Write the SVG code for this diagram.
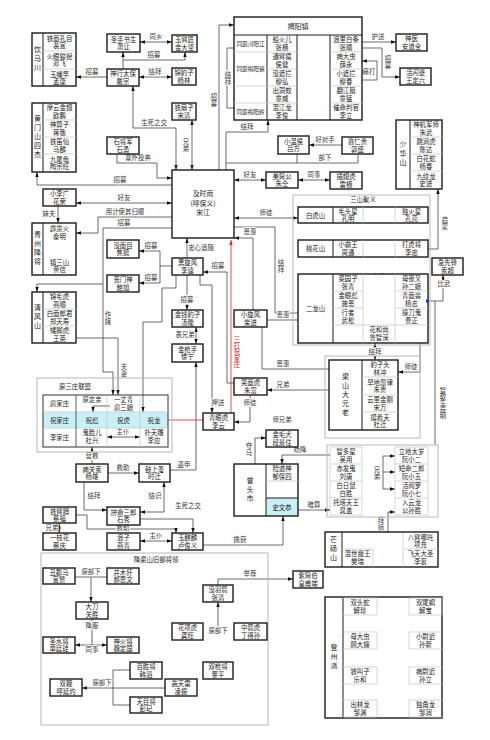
<svg xmlns="http://www.w3.org/2000/svg" width="490" height="740" viewBox="0 0 490 740">
<defs>
<marker id="ar" viewBox="0 0 6 4" refX="6" refY="2" markerWidth="5" markerHeight="4" markerUnits="userSpaceOnUse" orient="auto-start-reverse"><path d="M0,0L6,2L0,4z" fill="#111"/></marker>
<marker id="arr" viewBox="0 0 6 4" refX="6" refY="2" markerWidth="5" markerHeight="4" markerUnits="userSpaceOnUse" orient="auto-start-reverse"><path d="M0,0L6,2L0,4z" fill="#e02020"/></marker>
<style>
text{font-family:"Noto Sans CJK SC","Noto Sans CJK JP",sans-serif;font-size:6.4px;fill:#222;text-anchor:middle}
.bx{fill:#fff;stroke:#1a1a1a;stroke-width:1.4}
.gb{fill:none;stroke:#b8b8b8;stroke-width:1}
.cl{fill:none;stroke:#c4c4c4;stroke-width:0.7}
.dl{fill:none;stroke:#1a1a1a;stroke-width:1}
.v{writing-mode:vertical-rl}
.gt{font-size:7px;letter-spacing:2px}
.lb{fill:#333;paint-order:stroke;stroke:#fff;stroke-width:2px;stroke-linejoin:round}
.c{fill:none;stroke:#444;stroke-width:0.8}
.a{marker-end:url(#ar)}
.aa{marker-start:url(#ar);marker-end:url(#ar)}
.r{stroke:#e02020;marker-end:url(#arr)}
.rt{fill:#e02020}
.cy{fill:#c9f0f6}
.s7{font-size:7px}
.s5{font-size:5.6px}
</style>
</defs>
<rect width="490" height="740" fill="#fff"/>

<g id="connectors">
<path class="c aa" d="M140,42H172"/>
<path class="c a" d="M123,69V52"/>
<path class="c a" d="M123,60H185V52"/>
<path class="c a" d="M107,77H76"/>
<path class="c aa" d="M139,77H172"/>
<path class="c aa" d="M133,86V128H176V170"/>
<path class="c aa" d="M192,120V170"/>
<path class="c a" d="M117,154V163H157V178H172"/>
<path class="c a" d="M172,185H37V172"/>
<path class="c aa" d="M76,203H172"/>
<path class="c a" d="M58,206V223"/>
<path class="c aa" d="M59,244V256"/>
<path class="c a" d="M172,217H98V233H76"/>
<path class="c a" d="M172,228H103V284H37V292"/>
<path class="c a" d="M103,284V372H113V395"/>
<path class="c a" d="M76,338H118V395"/>
<path class="c a" d="M172,266H160V251H139"/>
<path class="c a" d="M160,266V283H139"/>
<path class="c a" d="M176,275V288H162V322H143V412"/>
<path class="c a" d="M187,258V238"/>
<path class="c a" d="M187,275V310"/>
<path class="c aa" d="M196,327V344"/>
<path class="c a" d="M234,383H227V272H203"/>
<path class="c a" d="M200,275V285H212V413"/>
<path class="c r" d="M168,420H231V240"/>
<path class="c a" d="M219,170V25H234"/>
<path class="c a" d="M226,170V132H268V120"/>
<path class="c" d="M358,154V163H226"/>
<path class="c" d="M297,154V163"/>
<path class="c a" d="M342,145H309"/>
<path class="c a" d="M227,48H267"/>
<path class="c a" d="M227,48V108H267"/>
<path class="c aa" d="M297,44H330"/>
<path class="c a" d="M297,61H330"/>
<path class="c aa" d="M297,78H330"/>
<path class="c aa" d="M297,95H330"/>
<path class="c a" d="M362,42H396"/>
<path class="c a" d="M362,48H382V77H400"/>
<path class="c a" d="M362,80H377V61H362"/>
<path class="c aa" d="M234,180H266"/>
<path class="c aa" d="M298,180H330"/>
<path class="c aa" d="M234,218H298"/>
<path class="c a" d="M234,227H275V313H333"/>
<path class="c a" d="M253,310V238H234"/>
<path class="c a" d="M267,320H333"/>
<path class="c a" d="M262,327V369H362"/>
<path class="c aa" d="M363,216H395"/>
<path class="c aa" d="M363,282H395"/>
<path class="c aa" d="M363,288H375V325"/>
<path class="c aa" d="M420,327V372H398"/>
<path class="c aa" d="M375,343V360"/>
<path class="c a" d="M428,301H443V275"/>
<path class="c" d="M435,301V445"/>
<path class="c a" d="M428,249H438V189"/>
<path class="c aa" d="M267,390H362"/>
<path class="c a" d="M250,395V422H234"/>
<path class="c a" d="M255,464V438H266"/>
<path class="c a" d="M330,455H282V464"/>
<path class="c a" d="M298,510H330"/>
<path class="c a" d="M203,545H283V516"/>
<path class="c a" d="M383,456H395"/>
<path class="c a" d="M383,456V489H395"/>
<path class="c a" d="M383,472H395"/>
<path class="c a" d="M388,512H395"/>
<path class="c a" d="M388,512V532H360V549"/>
<path class="c a" d="M397,562V540H405"/>
<path class="c aa" d="M373,562H405"/>
<path class="c a" d="M110,406H93V412"/>
<path class="c aa" d="M107,437H140"/>
<path class="c a" d="M92,464V447"/>
<path class="c a" d="M108,473H139"/>
<path class="c a" d="M170,470H196V362"/>
<path class="c a" d="M84,482V510H107"/>
<path class="c aa" d="M140,512H164V482"/>
<path class="c a" d="M140,519H193V533"/>
<path class="c aa" d="M59,523V533"/>
<path class="c a" d="M76,515H87V529H176V533"/>
<path class="c aa" d="M140,541H172"/>
<path class="c" d="M75,577H107"/>
<path class="c a" d="M91,577V602"/>
<path class="c" d="M92,619V645"/>
<path class="c aa" d="M75,645H107"/>
<path class="c a" d="M165,688H82"/>
<path class="c" d="M130,670H113V705H130"/>
<path class="c a" d="M218,627V602"/>
<path class="c a" d="M218,585V579H293"/>
<path class="c aa" d="M377,608H409"/>
<path class="c aa" d="M358,615V632"/>
<path class="c a" d="M358,624H426V615"/>
<path class="c aa" d="M377,642H409"/>
<path class="c aa" d="M426,649V667"/>
<path class="c a" d="M377,676H409"/>
<path class="c aa" d="M377,710H409"/>
</g>

<g id="labels">
<text class="lb" x="156" y="39">同乡</text>
<text class="lb" x="154" y="57">招募</text>
<text class="lb" x="92" y="74">招募</text>
<text class="lb" x="155" y="74">结拜</text>
<text class="lb" x="154" y="125">生死之交</text>
<text class="lb v" x="186" y="145">兄弟</text>
<text class="lb" x="138" y="160">寨外投奔</text>
<text class="lb" x="120" y="182">招募</text>
<text class="lb" x="124" y="200">好友</text>
<text class="lb" x="49" y="216">妹夫</text>
<text class="lb" x="59" y="252">师徒</text>
<text class="lb" x="125" y="214">用计使其归顺</text>
<text class="lb" x="124" y="225">招募</text>
<text class="lb" x="151" y="248">招募</text>
<text class="lb" x="151" y="280">招募</text>
<text class="lb v" x="108" y="318">作媒</text>
<text class="lb v" x="124" y="370">夫妻</text>
<text class="lb" x="201" y="250">忠心追随</text>
<text class="lb" x="187" y="302">招募</text>
<text class="lb" x="185" y="337">表兄弟</text>
<text class="lb" x="218" y="268">招募</text>
<text class="rt v" x="237" y="352">三打祝家庄</text>
<text class="lb v" x="214" y="100">招募</text>
<text class="lb" x="247" y="129">结拜</text>
<text class="lb" x="325" y="160">部下</text>
<text class="lb" x="325" y="142">好对手</text>
<text class="lb v" x="228" y="78">结拜</text>
<text class="lb" x="314" y="41">兄弟</text>
<text class="lb" x="314" y="58">徒弟</text>
<text class="lb" x="314" y="75">兄弟</text>
<text class="lb" x="314" y="92">兄弟</text>
<text class="lb" x="305" y="112">追随</text>
<text class="lb" x="378" y="39">护送</text>
<text class="lb v" x="388" y="62">招募</text>
<text class="lb" x="369" y="74">痛打</text>
<text class="lb" x="250" y="177">好友</text>
<text class="lb" x="314" y="177">同事</text>
<text class="lb" x="266" y="215">师徒</text>
<text class="lb v" x="281" y="266">结拜</text>
<text class="lb" x="250" y="234">恩惠</text>
<text class="lb" x="283" y="317">恩惠</text>
<text class="lb" x="283" y="366">恩惠</text>
<text class="lb" x="379" y="213">兄弟</text>
<text class="lb" x="379" y="279">夫妻</text>
<text class="lb v" x="381" y="307">结拜</text>
<text class="lb" x="411" y="369">师徒</text>
<text class="lb" x="375" y="354">结拜</text>
<text class="lb" x="444" y="286">比武</text>
<text class="lb v" x="443" y="403">智取生辰纲</text>
<text class="lb v" x="445" y="223">启蒙</text>
<text class="lb" x="283" y="387">兄弟</text>
<text class="lb" x="250" y="405">师徒</text>
<text class="lb" x="218" y="405">押送</text>
<text class="lb" x="282" y="422">师兄弟</text>
<text class="lb v" x="249" y="449">夺马</text>
<text class="lb" x="300" y="452">劝降</text>
<text class="lb" x="314" y="507">暗算</text>
<text class="lb" x="240" y="542">擒获</text>
<text class="lb v" x="377" y="473">兄弟</text>
<text class="lb v" x="381" y="524">拜师</text>
<text class="lb v" x="390" y="551">结拜</text>
<text class="lb" x="92" y="402">原定亲</text>
<text class="lb" x="123" y="434">主仆</text>
<text class="lb" x="92" y="458">营救</text>
<text class="lb" x="123" y="470">救助</text>
<text class="lb" x="184" y="467">盗甲</text>
<text class="lb" x="94" y="498">结拜</text>
<text class="lb" x="155" y="498">结识</text>
<text class="lb" x="188" y="508">生死之交</text>
<text class="lb" x="52" y="530">兄弟</text>
<text class="lb" x="123" y="529.5">救助</text>
<text class="lb" x="156" y="538">主仆</text>
<text class="lb" x="91" y="574">原部下</text>
<text class="lb" x="92" y="628">降服</text>
<text class="lb" x="92" y="652">同事</text>
<text class="lb" x="102" y="685">原部下</text>
<text class="lb" x="218" y="633">原部下</text>
<text class="lb" x="250" y="576">举荐</text>
<text class="lb" x="393" y="605">兄弟</text>
<text class="lb" x="392" y="622">表姐弟</text>
<text class="lb" x="393" y="639">夫妻</text>
<text class="lb v" x="431" y="658">兄弟</text>
<text class="lb" x="393" y="673">妻舅</text>
<text class="lb" x="393" y="707">叔侄</text>
</g>

<g id="yinmachuan">
<rect class="bx" x="32" y="33" width="44" height="53"/>
<path class="dl" d="M43,33V86"/><path class="cl" d="M43,51H76M43,69H76"/>
<text class="v gt" x="37.5" y="59.5">饮马川</text>
<text x="59.5" y="40.5">铁面孔目<tspan x="59.5" dy="7.5">裴宣</tspan></text>
<text x="59.5" y="58.5">火眼狻猊<tspan x="59.5" dy="7.5">邓飞</tspan></text>
<text x="59.5" y="76.5">玉幡竿<tspan x="59.5" dy="7.5">孟康</tspan></text>
</g>
<g id="xiaorang"><rect class="bx" x="107" y="34" width="33" height="18"/><text x="123.5" y="41.5">圣手书生<tspan x="123.5" dy="7.5">萧让</tspan></text></g>
<g id="jindajian"><rect class="bx" x="172" y="35" width="25" height="17"/><text x="184.5" y="42">玉臂匠<tspan x="184.5" dy="7.5">金大坚</tspan></text></g>
<g id="daizong"><rect class="bx" x="107" y="69" width="32" height="17"/><text x="123" y="76">神行太保<tspan x="123" dy="7.5">戴宗</tspan></text></g>
<g id="yanglin"><rect class="bx" x="172" y="68" width="24" height="17"/><text x="184" y="75">锦豹子<tspan x="184" dy="7.5">杨林</tspan></text></g>
<g id="huangmenshan">
<rect class="bx" x="32" y="103" width="44" height="69"/>
<path class="dl" d="M43,103V172"/><path class="cl" d="M43,120H76M43,137H76M43,154H76"/>
<text class="v gt" x="37.5" y="137.5">黄门山四杰</text>
<text x="59.5" y="110">摩云金翅<tspan x="59.5" dy="7.5">欧鹏</tspan></text>
<text x="59.5" y="127">神算子<tspan x="59.5" dy="7.5">蒋敬</tspan></text>
<text x="59.5" y="144">铁笛仙<tspan x="59.5" dy="7.5">马麟</tspan></text>
<text x="59.5" y="161.5">九尾龟<tspan x="59.5" dy="7.5">陶宗旺</tspan></text>
</g>
<g id="songqing"><rect class="bx" x="172" y="103" width="24" height="17"/><text x="184" y="110">铁扇子<tspan x="184" dy="7.5">宋清</tspan></text></g>
<g id="shiyong"><rect class="bx" x="107" y="137" width="32" height="17"/><text x="123" y="144">石将军<tspan x="123" dy="7.5">石勇</tspan></text></g>
<g id="jieyangzhen">
<rect class="bx" x="234" y="17" width="128" height="103"/>
<path class="dl" d="M234,35H362M267,35V120M297,35V120M330,35V120"/>
<path class="cl" d="M234,52H267M234,86H267M234,103H267M267,52H297M267,69H297M267,86H297M267,103H297M330,52H362M330,69H362M330,86H362M330,103H362"/>
<text x="298" y="29" class="s7">揭阳镇</text>
<text x="250.5" y="46" class="s5">同霸浔阳江</text>
<text x="250.5" y="71" class="s5">同霸揭阳镇</text>
<text x="250.5" y="114" class="s5">同霸揭阳岭</text>
<text x="282" y="42">船火儿<tspan x="282" dy="7.5">张横</tspan></text>
<text x="282" y="59">通臂猿<tspan x="282" dy="7.5">侯健</tspan></text>
<text x="282" y="76">没遮拦<tspan x="282" dy="7.5">穆弘</tspan></text>
<text x="282" y="93">出洞蛟<tspan x="282" dy="7.5">童威</tspan></text>
<text x="282" y="110">混江龙<tspan x="282" dy="7.5">李俊</tspan></text>
<text x="346" y="42">浪里白条<tspan x="346" dy="7.5">张顺</tspan></text>
<text x="346" y="59">病大虫<tspan x="346" dy="7.5">薛永</tspan></text>
<text x="346" y="76">小遮拦<tspan x="346" dy="7.5">穆春</tspan></text>
<text x="346" y="93">翻江蜃<tspan x="346" dy="7.5">童猛</tspan></text>
<text x="346" y="110">催命判官<tspan x="346" dy="7.5">李立</tspan></text>
</g>
<g id="andaoquan"><rect class="bx" x="396" y="34" width="31" height="17"/><text x="411.5" y="41">神医<tspan x="411.5" dy="7.5">安道全</tspan></text></g>
<g id="wangdingliu"><rect class="bx" x="400" y="68" width="31" height="17"/><text x="415.5" y="75">活闪婆<tspan x="415.5" dy="7.5">王定六</tspan></text></g>
<g id="lvfang"><rect class="bx" x="278" y="136" width="31" height="18"/><text x="293.5" y="143.5">小温侯<tspan x="293.5" dy="7.5">吕方</tspan></text></g>
<g id="guosheng"><rect class="bx" x="342" y="137" width="31" height="17"/><text x="357.5" y="144">赛仁贵<tspan x="357.5" dy="7.5">郭盛</tspan></text></g>
<g id="shaohuashan">
<rect class="bx" x="396" y="120" width="46" height="69"/>
<path class="dl" d="M410,120V189"/><path class="cl" d="M410,137H442M410,154H442M410,171H442"/>
<text class="v gt" x="403" y="154.5">少华山</text>
<text x="426" y="127">神机军师<tspan x="426" dy="7.5">朱武</tspan></text>
<text x="426" y="144">跳涧虎<tspan x="426" dy="7.5">陈达</tspan></text>
<text x="426" y="161">白花蛇<tspan x="426" dy="7.5">杨春</tspan></text>
<text x="426" y="178.5">九纹龙<tspan x="426" dy="7.5">史进</tspan></text>
</g>
<g id="songjiang"><rect class="bx" x="172" y="170" width="62" height="68"/>
<text x="203" y="196" style="font-size:6.8px">及时雨<tspan x="203" dy="9.5">(呼保义)</tspan><tspan x="203" dy="9.5">宋江</tspan></text></g>
<g id="zhutong"><rect class="bx" x="266" y="172" width="32" height="16"/><text x="282" y="178.5">美髯公<tspan x="282" dy="7.5">朱仝</tspan></text></g>
<g id="leiheng"><rect class="bx" x="330" y="172" width="32" height="17"/><text x="346" y="179">插翅虎<tspan x="346" dy="7.5">雷横</tspan></text></g>
<g id="huarong"><rect class="bx" x="43" y="189" width="33" height="17"/><text x="59.5" y="196">小李广<tspan x="59.5" dy="7.5">花荣</tspan></text></g>
<g id="qingzhou">
<rect class="bx" x="32" y="223" width="44" height="52"/>
<path class="dl" d="M43,223V275"/>
<text class="v gt" x="37.5" y="249">青州降将</text>
<text x="59.5" y="231">霹雳火<tspan x="59.5" dy="7.5">秦明</tspan></text>
<text x="59.5" y="264.5">镇三山<tspan x="59.5" dy="7.5">黄信</tspan></text>
</g>
<g id="jiaoting"><rect class="bx" x="107" y="240" width="32" height="18"/><text x="123" y="247.5">没面目<tspan x="123" dy="7.5">焦挺</tspan></text></g>
<g id="baoxu"><rect class="bx" x="107" y="275" width="32" height="17"/><text x="123" y="282">丧门神<tspan x="123" dy="7.5">鲍旭</tspan></text></g>
<g id="likui"><rect class="bx" x="172" y="258" width="31" height="17"/><text x="187.5" y="265">黑旋风<tspan x="187.5" dy="7.5">李逵</tspan></text></g>
<g id="qingfengshan">
<rect class="bx" x="32" y="292" width="44" height="51"/>
<path class="dl" d="M43,292V343"/><path class="cl" d="M43,309H76M43,326H76"/>
<text class="v gt" x="37.5" y="317.5">清风山</text>
<text x="59.5" y="299">锦毛虎<tspan x="59.5" dy="7.5">燕顺</tspan></text>
<text x="59.5" y="316">白面郎君<tspan x="59.5" dy="7.5">郑天寿</tspan></text>
<text x="59.5" y="333">矮脚虎<tspan x="59.5" dy="7.5">王英</tspan></text>
</g>
<g id="tanglong"><rect class="bx" x="172" y="310" width="31" height="17"/><text x="187.5" y="317">金钱豹子<tspan x="187.5" dy="7.5">汤隆</tspan></text></g>
<g id="xuning"><rect class="bx" x="172" y="344" width="31" height="18"/><text x="187.5" y="351.5">金枪手<tspan x="187.5" dy="7.5">徐宁</tspan></text></g>
<g id="chaijin"><rect class="bx" x="234" y="310" width="33" height="17"/><text x="250.5" y="317">小旋风<tspan x="250.5" dy="7.5">柴进</tspan></text></g>
<g id="sanshan">
<rect class="gb" x="293" y="195" width="137" height="150"/>
<text x="363" y="202">三山聚义</text>
<rect class="bx" x="298" y="207" width="130" height="16"/>
<path class="dl" d="M333,207V223"/><path class="cl" d="M363,207V223M395,207V223"/>
<text x="315.5" y="217.5">白虎山</text>
<text x="348" y="213.5">毛头星<tspan x="348" dy="7.5">孔明</tspan></text>
<text x="411.5" y="213.5">独火星<tspan x="411.5" dy="7.5">孔亮</tspan></text>
<rect class="bx" x="298" y="240" width="130" height="17"/>
<path class="dl" d="M333,240V257"/><path class="cl" d="M363,240V257M395,240V257"/>
<text x="315.5" y="251">桃花山</text>
<text x="348" y="247">小霸王<tspan x="348" dy="7.5">周通</tspan></text>
<text x="411.5" y="247">打虎将<tspan x="411.5" dy="7.5">李忠</tspan></text>
<rect class="bx" x="298" y="274" width="130" height="69"/>
<path class="dl" d="M333,274V343"/>
<path class="cl" d="M333,291H363M333,308H363M333,325H428M395,291H428M395,308H428M363,274V343M395,274V343"/>
<text x="315.5" y="311">二龙山</text>
<text x="348" y="281">菜园子<tspan x="348" dy="7.5">张青</tspan></text>
<text x="348" y="298">金眼彪<tspan x="348" dy="7.5">施恩</tspan></text>
<text x="348" y="315">行者<tspan x="348" dy="7.5">武松</tspan></text>
<text x="379" y="332">花和尚<tspan x="379" dy="7.5">鲁智深</tspan></text>
<text x="411.5" y="281">母夜叉<tspan x="411.5" dy="7.5">孙二娘</tspan></text>
<text x="411.5" y="298">青面兽<tspan x="411.5" dy="7.5">杨志</tspan></text>
<text x="411.5" y="315">操刀鬼<tspan x="411.5" dy="7.5">曹正</tspan></text>
<rect x="426" y="299.5" width="3" height="3" fill="#2233cc"/>
</g>
<g id="suochao"><rect class="bx" x="432" y="258" width="31" height="17"/><text x="447.5" y="265">急先锋<tspan x="447.5" dy="7.5">索超</tspan></text></g>
<g id="liangshan">
<rect class="gb" x="325" y="356" width="95" height="82"/>
<rect class="bx" x="329" y="360" width="69" height="70"/>
<path class="dl" d="M362,360V430"/><path class="cl" d="M362,377H398M362,395H398M362,412H398"/>
<text class="v gt" x="345.5" y="395">梁山大元老</text>
<text x="380" y="367">豹子头<tspan x="380" dy="7.5">林冲</tspan></text>
<text x="380" y="384.5">旱地忽律<tspan x="380" dy="7.5">朱贵</tspan></text>
<text x="380" y="402">云里金刚<tspan x="380" dy="7.5">宋万</tspan></text>
<text x="380" y="419.5">摸着天<tspan x="380" dy="7.5">杜迁</tspan></text>
</g>
<g id="sanzhuang">
<rect class="gb" x="37" y="378" width="135" height="74"/>
<text x="75" y="389">原三庄联盟</text>
<rect class="cy" x="43" y="412" width="125" height="16"/>
<rect x="43" y="395" width="125" height="52" fill="none" stroke="#333" stroke-width="1"/>
<path class="cl" d="M43,412H168M43,428H168M107,395V447M140,395V447"/>
<path d="M76,395V447" stroke="#333" stroke-width="0.8"/>
<text x="59.5" y="406">扈家庄</text><text x="59.5" y="423">祝家庄</text><text x="59.5" y="440">李家庄</text>
<text x="123.5" y="402">一丈青<tspan x="123.5" dy="7.5">扈三娘</tspan></text>
<text x="92" y="423">祝彪</text><text x="123.5" y="423">祝虎</text><text x="154" y="423">祝龙</text>
<text x="92" y="435">鬼脸儿<tspan x="92" dy="7.5">杜兴</tspan></text>
<text x="154" y="435">扑天雕<tspan x="154" dy="7.5">李应</tspan></text>
</g>
<g id="zhufu"><rect class="bx" x="234" y="378" width="33" height="17"/><text x="250.5" y="385">笑面虎<tspan x="250.5" dy="7.5">朱富</tspan></text></g>
<g id="liyun"><rect class="bx" x="203" y="413" width="31" height="17"/><text x="218.5" y="420">青眼虎<tspan x="218.5" dy="7.5">李云</tspan></text></g>
<g id="duanjingzhu"><rect class="bx" x="266" y="430" width="32" height="17"/><text x="282" y="437">金毛犬<tspan x="282" dy="7.5">段景住</tspan></text></g>
<g id="zengtoushi">
<rect class="cy" x="266" y="498" width="32" height="18"/>
<rect x="234" y="464" width="64" height="52" fill="none" stroke="#1a1a1a" stroke-width="1.4"/>
<path class="dl" d="M266,464V516M266,498H298"/><path class="cl" d="M266,481H298"/>
<text class="v gt" x="250" y="490">曾头市</text>
<text x="282" y="471">险道神<tspan x="282" dy="7.5">郁保四</tspan></text>
<text x="282" y="509.5">史文恭</text>
</g>
<g id="zhiqu">
<rect class="gb" x="327" y="445" width="111" height="72"/>
<path class="cl" d="M330,447H362V515H330ZM330,464H362M330,481H362M330,498H362M395,447H428V515H395ZM395,464H428M395,481H428M395,498H428"/>
<text x="346" y="454">智多星<tspan x="346" dy="7.5">吴用</tspan></text>
<text x="346" y="471">赤发鬼<tspan x="346" dy="7.5">刘唐</tspan></text>
<text x="346" y="488">白日鼠<tspan x="346" dy="7.5">白胜</tspan></text>
<text x="346" y="505">托塔天王<tspan x="346" dy="7.5">晁盖</tspan></text>
<text x="411.5" y="454">立地太岁<tspan x="411.5" dy="7.5">阮小二</tspan></text>
<text x="411.5" y="471">短命二郎<tspan x="411.5" dy="7.5">阮小五</tspan></text>
<text x="411.5" y="488">活阎罗<tspan x="411.5" dy="7.5">阮小七</tspan></text>
<text x="411.5" y="505">入云龙<tspan x="411.5" dy="7.5">公孙胜</tspan></text>
</g>
<g id="yangxiong"><rect class="bx" x="76" y="464" width="32" height="18"/><text x="92" y="471.5">病关索<tspan x="92" dy="7.5">杨雄</tspan></text></g>
<g id="shiqian"><rect class="bx" x="139" y="464" width="31" height="18"/><text x="154.5" y="471.5">鼓上蚤<tspan x="154.5" dy="7.5">时迁</tspan></text></g>
<g id="caifu"><rect class="bx" x="43" y="507" width="33" height="16"/><text x="59.5" y="513.5">铁臂膊<tspan x="59.5" dy="7.5">蔡福</tspan></text></g>
<g id="shixiu"><rect class="bx" x="107" y="507" width="33" height="18"/><text x="123.5" y="514.5">拼命三郎<tspan x="123.5" dy="7.5">石秀</tspan></text></g>
<g id="caiqing"><rect class="bx" x="43" y="533" width="33" height="17"/><text x="59.5" y="540">一枝花<tspan x="59.5" dy="7.5">蔡庆</tspan></text></g>
<g id="yanqing"><rect class="bx" x="107" y="533" width="33" height="17"/><text x="123.5" y="540">浪子<tspan x="123.5" dy="7.5">燕青</tspan></text></g>
<g id="lujunyi"><rect class="bx" x="172" y="533" width="31" height="17"/><text x="187.5" y="540">玉麒麟<tspan x="187.5" dy="7.5">卢俊义</tspan></text></g>
<g id="mangdangshan">
<rect class="bx" x="325" y="532" width="113" height="35"/>
<path class="dl" d="M342,532V567"/>
<path class="cl" d="M342,549H373V567M403,533V567M403,549H438"/>
<text class="v gt" x="333.5" y="549.5">芒砀山</text>
<text x="357.5" y="556">混世魔王<tspan x="357.5" dy="7.5">樊瑞</tspan></text>
<text x="420.5" y="539.5">八臂哪吒<tspan x="420.5" dy="7.5">项充</tspan></text>
<text x="420.5" y="556">飞天大圣<tspan x="420.5" dy="7.5">李衮</tspan></text>
</g>
<g id="xiangliang">
<rect class="gb" x="41" y="553" width="227" height="172"/>
<text x="156" y="562">降梁山旧部将领</text>
</g>
<g id="xuanzan"><rect class="bx" x="43" y="568" width="32" height="16"/><text x="59" y="574.5">丑郡马<tspan x="59" dy="7.5">宣赞</tspan></text></g>
<g id="haosiwen"><rect class="bx" x="107" y="568" width="32" height="16"/><text x="123" y="574.5">井木犴<tspan x="123" dy="7.5">郝思文</tspan></text></g>
<g id="guansheng"><rect class="bx" x="76" y="602" width="32" height="17"/><text x="92" y="609">大刀<tspan x="92" dy="7.5">关胜</tspan></text></g>
<g id="shantinggui"><rect class="bx" x="43" y="637" width="32" height="16"/><text x="59" y="643.5">圣水将<tspan x="59" dy="7.5">单廷珪</tspan></text></g>
<g id="weidingguo"><rect class="bx" x="107" y="637" width="32" height="16"/><text x="123" y="643.5">神火将<tspan x="123" dy="7.5">魏定国</tspan></text></g>
<g id="huyanzhuo"><rect class="bx" x="50" y="679" width="32" height="17"/><text x="66" y="686">双鞭<tspan x="66" dy="7.5">呼延灼</tspan></text></g>
<g id="hantao"><rect class="bx" x="130" y="662" width="32" height="17"/><text x="146" y="669">百胜将<tspan x="146" dy="7.5">韩滔</tspan></text></g>
<g id="pengqi"><rect class="bx" x="130" y="697" width="32" height="16"/><text x="146" y="703.5">天目将<tspan x="146" dy="7.5">彭玘</tspan></text></g>
<g id="lingzhen"><rect class="bx" x="165" y="679" width="32" height="17"/><text x="181" y="686">轰天雷<tspan x="181" dy="7.5">凌振</tspan></text></g>
<g id="dongping"><rect class="bx" x="203" y="662" width="30" height="17"/><text x="218" y="669">双枪将<tspan x="218" dy="7.5">董平</tspan></text></g>
<g id="zhangqing"><rect class="bx" x="203" y="585" width="30" height="17"/><text x="218" y="592">没羽箭<tspan x="218" dy="7.5">张清</tspan></text></g>
<g id="gongwang"><rect class="bx" x="172" y="623" width="31" height="17"/><text x="187.5" y="630">花项虎<tspan x="187.5" dy="7.5">龚旺</tspan></text></g>
<g id="dingdesun"><rect class="bx" x="234" y="623" width="33" height="17"/><text x="250.5" y="630">中箭虎<tspan x="250.5" dy="7.5">丁得孙</tspan></text></g>
<g id="huangfuduan"><rect class="bx" x="293" y="571" width="30" height="17"/><text x="308" y="578">紫髯伯<tspan x="308" dy="7.5">皇甫端</tspan></text></g>
<g id="dengzhou">
<rect class="bx" x="325" y="597" width="117" height="121"/>
<path class="dl" d="M343,597V718"/>
<path class="cl" d="M343,598H377V615H343M409,598H442M409,615H442V598M409,598V615M343,632H377V649H343M409,632V649H442M409,632H442M343,667H377V684H343M409,667V684H442M409,667H442M343,700H377V717H343M409,700V717H442M409,700H442"/>
<text class="v gt" x="334" y="657.5">登州派</text>
<text x="360" y="605">双头蛇<tspan x="360" dy="7.5">解珍</tspan></text>
<text x="425.5" y="605">双尾蝎<tspan x="425.5" dy="7.5">解宝</tspan></text>
<text x="360" y="639">母大虫<tspan x="360" dy="7.5">顾大嫂</tspan></text>
<text x="425.5" y="639">小尉迟<tspan x="425.5" dy="7.5">孙新</tspan></text>
<text x="360" y="674">铁叫子<tspan x="360" dy="7.5">乐和</tspan></text>
<text x="425.5" y="674">病尉迟<tspan x="425.5" dy="7.5">孙立</tspan></text>
<text x="360" y="707">出林龙<tspan x="360" dy="7.5">邹渊</tspan></text>
<text x="425.5" y="707">独角龙<tspan x="425.5" dy="7.5">邹润</tspan></text>
</g>
</svg>
